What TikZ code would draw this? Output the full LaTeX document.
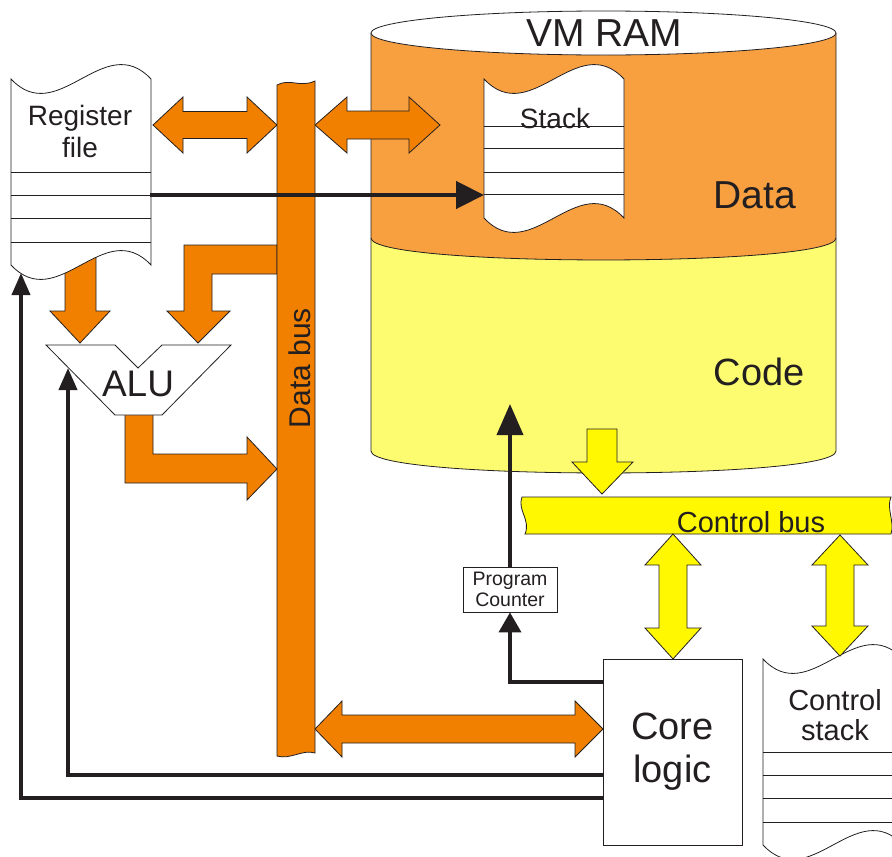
\documentclass[tikz,border=0pt]{standalone}
\usepackage{fontspec}
\setmainfont{Liberation Sans}
\usetikzlibrary{arrows.meta}
\definecolor{busorange}{RGB}{242,128,0}
\definecolor{dataorange}{RGB}{248,160,64}
\definecolor{codeyellow}{RGB}{253,252,112}
\definecolor{ctrlyellow}{RGB}{255,248,0}
\definecolor{ink}{RGB}{35,31,32}

\begin{document}
\begin{tikzpicture}[x=1pt,y=-1pt,
  outline/.style={draw=ink,line width=0.8pt},
  orangearrow/.style={outline,fill=busorange},
  yellowarrow/.style={outline,fill=ctrlyellow},
  wire/.style={draw=ink,line width=3.8pt},
  txt/.style={text=ink,inner sep=0pt}]
\useasboundingbox (0,0) rectangle (892,857);
\clip (0,0) rectangle (892,857);

\filldraw[outline,fill=codeyellow] (371,238) -- (371,451) .. controls (371,480.3) and (836,480.3) .. (836,451) -- (836,238);
\filldraw[outline,fill=dataorange] (371,33) -- (371,238) .. controls (371,267.3) and (836,267.3) .. (836,238) -- (836,33);
\filldraw[outline,fill=white] (603.5,33) ellipse [x radius=232.5, y radius=22];
\node[txt,anchor=base,font=\fontsize{39}{44}\selectfont] (ramtitle) at (604,46) {VM RAM};
\node[txt,anchor=base,font=\fontsize{39}{44}\selectfont] (datalabel) at (755,208) {Data};
\node[txt,anchor=base,font=\fontsize{38}{44}\selectfont] (codelabel) at (759,385) {Code};

\begin{scope}[shift={(484,63)}]
\filldraw[outline,fill=white] (0,16) .. controls (47,66) and (93,-34) .. (140,16) -- (140,155) .. controls (93,105) and (47,205) .. (0,155) -- cycle;
\foreach \y in {63,85,109,131}
  \draw[outline] (0,\y) -- (140,\y);
\end{scope}
\node[txt,anchor=base,font=\fontsize{28}{32}\selectfont] (stack) at (555,128) {Stack};

\filldraw[orangearrow] (65,250) -- (96,250) -- (96,311) -- (110,311) -- (80,343) -- (50,311) -- (65,311) -- cycle;
\filldraw[orangearrow] (277,245) -- (184,245) -- (184,311) -- (167,311) -- (198,343) -- (230,311) -- (212,311) -- (212,274) -- (277,274) -- cycle;
\filldraw[orangearrow] (125,410) -- (125,483) -- (247,483) -- (247,500) -- (277,469) -- (247,437) -- (247,454) -- (153,454) -- (153,410) -- cycle;
\filldraw[orangearrow] (153,125) -- (183,97) -- (183,111.5) -- (247,111.5) -- (247,97) -- (277,125) -- (247,153) -- (247,138.5) -- (183,138.5) -- (183,153) -- cycle;
\filldraw[orangearrow] (315,125) -- (347,97) -- (347,111) -- (409,111) -- (409,97) -- (440,125) -- (409,153) -- (409,139) -- (347,139) -- (347,153) -- cycle;
\filldraw[orangearrow] (315,729) -- (342,701) -- (342,715) -- (575,715) -- (575,701) -- (603,729) -- (575,757) -- (575,743) -- (342,743) -- (342,757) -- cycle;
\filldraw[orangearrow] (277,85) .. controls (290,78) and (300,88) .. (315,81) -- (315,753) .. controls (303,749) and (290,760) .. (277,756) -- cycle;
\node[txt,rotate=90,font=\fontsize{30}{32}\selectfont] (databus) at (300,368) {Data bus};

\begin{scope}[shift={(11,63)}]
\filldraw[outline,fill=white] (0,16) .. controls (47,66) and (93,-34) .. (140,16) -- (140,202) .. controls (93,152) and (47,252) .. (0,202) -- cycle;
\foreach \y in {109,132,155,179}
  \draw[outline] (0,\y) -- (140,\y);
\end{scope}
\node[txt,align=center,font=\fontsize{28}{32}\selectfont] (regfile) at (80,131) {Register\\file};

\filldraw[outline,fill=white] (46,345) -- (115,345) -- (138,368) -- (162,345) -- (231,345) -- (162,415) -- (115,415) -- cycle;
\node[txt,anchor=base,font=\fontsize{37}{40}\selectfont] (alu) at (138,396) {ALU};

\filldraw[yellowarrow] (522,497) -- (891,497) .. controls (886,508) and (895,522) .. (891,534) -- (525,534) .. controls (531,520) and (517,510) .. (522,497) -- cycle;
\node[txt,anchor=base,font=\fontsize{29}{32}\selectfont] (ctrlbus) at (751,532) {Control bus};
\filldraw[yellowarrow] (587,429) -- (617,429) -- (617,462) -- (633,462) -- (602,494) -- (572,462) -- (587,462) -- cycle;

\begin{scope}[shift={(763,643)}]
\filldraw[outline,fill=white] (0,16) .. controls (47,66) and (93,-34) .. (140,16) -- (140,202) .. controls (93,152) and (47,252) .. (0,202) -- cycle;
\foreach \y in {109,132,155,179}
  \draw[outline] (0,\y) -- (140,\y);
\end{scope}
\node[txt,align=center,font=\fontsize{29}{30}\selectfont] (ctrlstack) at (835,715) {Control\\stack};

\filldraw[yellowarrow] (673,534) -- (701,565) -- (687,565) -- (687,628) -- (701,628) -- (673,659) -- (645,628) -- (659,628) -- (659,565) -- (645,565) -- cycle;
\filldraw[yellowarrow] (840,535) -- (868,565) -- (854,565) -- (854,626) -- (868,626) -- (840,656) -- (812,626) -- (826,626) -- (826,565) -- (812,565) -- cycle;

\node[outline,fill=white,minimum width=139pt,minimum height=186pt,inner sep=0pt,align=center,text=ink,font=\fontsize{38}{43}\selectfont] (core) at (672.5,752) {Core\\logic};
\node[outline,fill=white,minimum width=94pt,minimum height=45pt,inner sep=0pt,align=center,text=ink,font=\fontsize{19.5}{21}\selectfont] (pc) at (510,589.5) {Program\\Counter};

\coordinate (regout) at (150,195);
\coordinate (stackin) at (484,195);
\coordinate (codein) at (510,404);
\coordinate (aluin) at (68,368);
\coordinate (regin) at (21,273);
\draw[wire,line width=4.5pt,-{Triangle[length=28pt,width=27pt]}] (regout) -- (stackin);
\draw[wire,-{Triangle[length=31pt,width=26pt]}] (pc.north) -- (codein);
\draw[wire,-{Triangle[length=20pt,width=22pt]}] ([yshift=-23pt]core.north west) -| (pc.south);
\draw[wire,-{Triangle[length=22pt,width=18pt]}] ([yshift=-116pt]core.north west) -| (aluin);
\draw[wire,-{Triangle[length=22pt,width=18pt]}] ([yshift=-139pt]core.north west) -| (regin);
\end{tikzpicture}
\end{document}
